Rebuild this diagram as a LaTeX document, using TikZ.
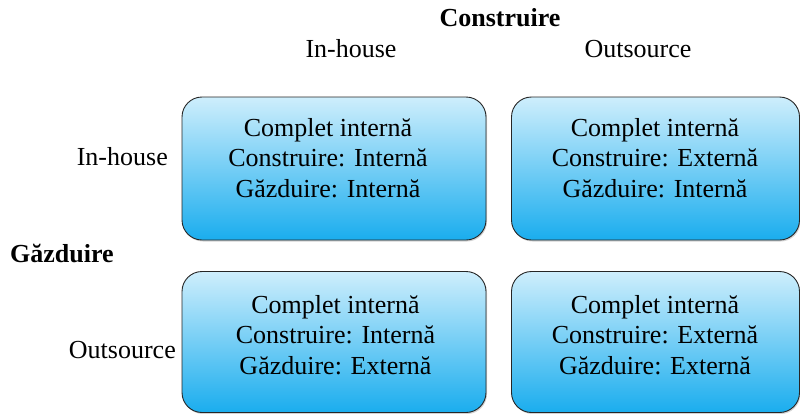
\documentclass[tikz,border=0pt]{standalone}
\usepackage{fontspec}
\setmainfont{Liberation Serif}
\usetikzlibrary{shadows}
\definecolor{celltop}{RGB}{206,238,252}
\definecolor{cellbot}{RGB}{26,173,238}
\begin{document}
\begin{tikzpicture}[x=1pt,y=-1pt,
  cell/.style={draw=black!85, line width=0.9pt, rounded corners=20pt,
    top color=celltop, bottom color=cellbot,
    drop shadow={shadow xshift=1pt, shadow yshift=-1.5pt, opacity=0.35},
    minimum width=#1, inner sep=0pt},
  celltext/.style={align=center, font=\fontsize{26}{30.5}\selectfont, inner sep=0pt},
  lab/.style={font=\fontsize{26}{30}\selectfont, inner sep=0pt},
  blab/.style={font=\fontsize{26}{30}\selectfont\bfseries, inner sep=0pt}]
\useasboundingbox (0,0) rectangle (800,413);
\node[cell=304pt, minimum height=143pt] (b1) at (334,168.5) {};
\node[cell=288pt, minimum height=143pt] (b2) at (655.5,168.5) {};
\node[cell=304pt, minimum height=141pt] (b3) at (334,342) {};
\node[cell=288pt, minimum height=141pt] (b4) at (655.5,342) {};
\node[celltext] (t1) at (328,158) {Complet internă\\Construire: Internă\\Găzduire: Internă};
\node[celltext] (t2) at (655,158) {Complet internă\\Construire: Externă\\Găzduire: Internă};
\node[celltext] (t3) at (335.5,335) {Complet internă\\Construire: Internă\\Găzduire: Externă};
\node[celltext] (t4) at (655,335) {Complet internă\\Construire: Externă\\Găzduire: Externă};
\node[blab] (cons) at (500,18) {Construire};
\node[lab] (ih1) at (351,49) {In-house};
\node[lab] (os1) at (638,49) {Outsource};
\node[lab, anchor=east] (ih2) at (168,157) {In-house};
\node[lab, anchor=east] (os2) at (176,350) {Outsource};
\node[blab, anchor=west] (gaz) at (10,253) {Găzduire};
\end{tikzpicture}
\end{document}
